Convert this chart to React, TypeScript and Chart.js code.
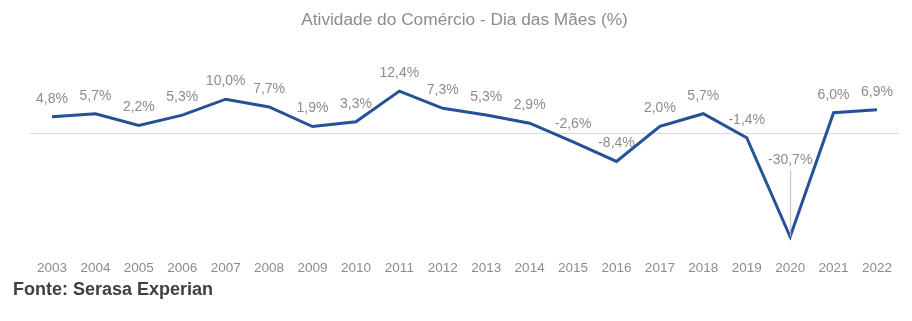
import React, { useEffect, useRef } from "react";
import { Chart, registerables } from "chart.js";

Chart.register(...registerables);

const years = ["2003","2004","2005","2006","2007","2008","2009","2010","2011","2012","2013","2014","2015","2016","2017","2018","2019","2020","2021","2022"];
const values = [4.8, 5.7, 2.2, 5.3, 10.0, 7.7, 1.9, 3.3, 12.4, 7.3, 5.3, 2.9, -2.6, -8.4, 2.0, 5.7, -1.4, -30.7, 6.0, 6.9];
const valueLabels = ["4,8%","5,7%","2,2%","5,3%","10,0%","7,7%","1,9%","3,3%","12,4%","7,3%","5,3%","2,9%","-2,6%","-8,4%","2,0%","5,7%","-1,4%","-30,7%","6,0%","6,9%"];
const title = "Atividade do Comércio - Dia das Mães (%)";
const source = "Fonte: Serasa Experian";

const FONT = "'Liberation Sans', Arial, sans-serif";

const labelsPlugin = {
  id: "customLabels",
  afterDatasetsDraw(chart: any) {
    const ctx = chart.ctx;
    const meta = chart.getDatasetMeta(0);
    ctx.save();
    ctx.font = `14px ${FONT}`;
    ctx.fillStyle = "#8c8c8c";
    ctx.textAlign = "center";
    ctx.textBaseline = "middle";
    meta.data.forEach((pt: any, i: number) => {
      const text = valueLabels[i];
      if (i === 17) {
        const ly = pt.y - 77;
        ctx.fillText(text, pt.x, ly);
        ctx.beginPath();
        ctx.strokeStyle = "#bfbfbf";
        ctx.lineWidth = 1;
        ctx.moveTo(pt.x + 0.5, ly + 10);
        ctx.lineTo(pt.x + 0.5, pt.y);
        ctx.stroke();
      } else {
        ctx.fillText(text, pt.x, pt.y - 18);
      }
    });
    ctx.restore();
  },
  afterDraw(chart: any) {
    const ctx = chart.ctx;
    ctx.save();
    ctx.font = `17.3px ${FONT}`;
    ctx.fillStyle = "#8c8c8c";
    ctx.textAlign = "center";
    ctx.textBaseline = "alphabetic";
    ctx.fillText(title, 464.5, 25);
    ctx.font = `bold 18px ${FONT}`;
    ctx.fillStyle = "#404040";
    ctx.textAlign = "left";
    ctx.fillText(source, 13, 295);
    ctx.restore();
  },
};

export default function App() {
  const ref = useRef<HTMLCanvasElement | null>(null);
  useEffect(() => {
    if (!ref.current) return;
    const chart = new Chart(ref.current, {
      type: "line",
      data: {
        labels: years,
        datasets: [
          {
            data: values,
            borderColor: "#245197",
            borderWidth: 3,
            pointRadius: 0,
            tension: 0,
            fill: false,
          },
        ],
      },
      options: {
        responsive: false,
        animation: false,
        devicePixelRatio: 1,
        layout: { padding: { left: 30.3, right: 13.3, top: 65.4, bottom: 35.3 } },
        plugins: { legend: { display: false }, title: { display: false }, tooltip: { enabled: false } },
        scales: {
          x: {
            offset: true,
            grid: { display: false, drawTicks: false },
            border: { display: false },
            ticks: { color: "#8c8c8c", font: { size: 13.5, family: FONT }, padding: 9.1, maxRotation: 0, autoSkip: false },
          },
          y: {
            min: -35,
            max: 20,
            ticks: { display: false, stepSize: 5 },
            border: { display: false },
            grid: {
              drawTicks: false,
              lineWidth: 1,
              color: (c: any) => (c.tick && c.tick.value === 0 ? "#d9d9d9" : "rgba(0,0,0,0)"),
            },
          },
        },
      },
      plugins: [labelsPlugin],
    });
    return () => chart.destroy();
  }, []);
  return (
    <div style={{ position: "absolute", left: 0, top: 0, width: 912, height: 321, background: "#fff" }}>
      <canvas ref={ref} width={912} height={321} style={{ display: "block" }} />
    </div>
  );
}
